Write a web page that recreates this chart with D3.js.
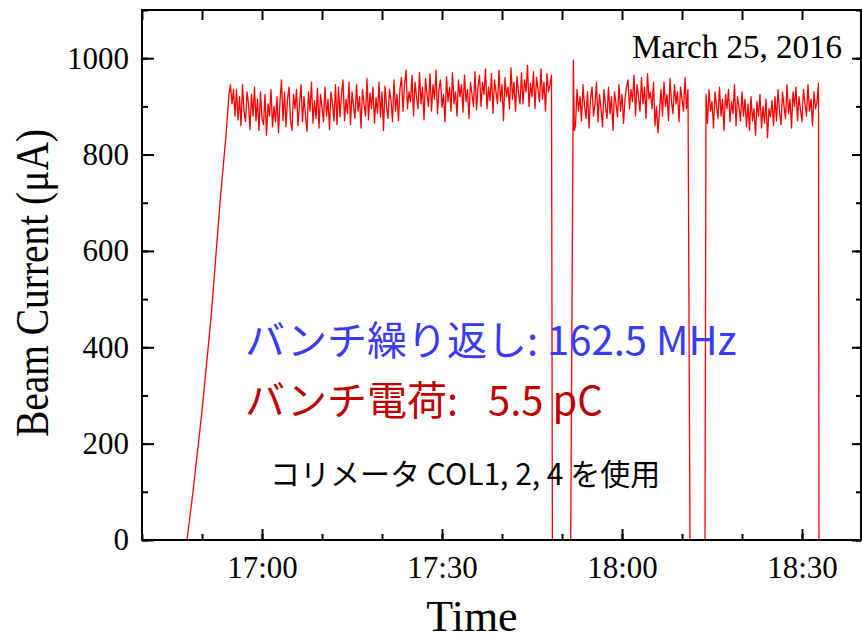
<!DOCTYPE html>
<html>
<head>
<meta charset="utf-8">
<script src="https://cdn.jsdelivr.net/npm/d3@7"></script>
<style>
  html, body { margin: 0; padding: 0; background: #fff; }
  svg { display: block; }
</style>
</head>
<body>
<svg id="chart" width="862" height="642"></svg>
<script>
// ---------------- DATA ----------------
const dateLabel = "March 25, 2016";
const xTitle = "Time";
const yTitle = "Beam Current (\u03bcA)";
const note1 = "バンチ繰り返し: 162.5 MHz";
const note2 = ["バンチ電荷:", "5.5 pC"];
const note3 = "コリメータ COL1, 2, 4 を使用";

const xDomain = ["16:40:00", "18:40:00"];
const yDomain = [0, 1100];
const yMajorTicks = [0, 200, 400, 600, 800, 1000];

// edge points (ramp-up, beam trips and restarts)
const edgeTimes  = ["16:40:00","16:47:30","16:48:30","16:50:00","16:51:30","16:53:00","16:54:00","16:54:30",
                    "17:48:24",
                    "17:51:27","17:51:54","17:52:03",
                    "18:11:20",
                    "18:13:50",
                    "18:32:50","18:40:00"];
const edgeValues = [0, 0, 100, 268, 460, 700, 840, 925,
                    0,
                    0, 996, 850,
                    0,
                    0,
                    0, 0];

// plateau samples, one every 15 s
const sampleStepSeconds = 15;
const plateau1Start = "16:54:45";
const plateau1 = [
  945, 905, 935, 880,
  935, 872, 920, 860, 945, 890, 868, 930, 905, 852, 925, 880, 940, 870,
  915, 850, 930, 875, 862, 925, 840, 905, 880, 935, 858, 900, 868, 920, 845, 910,
  955, 870, 930, 858, 915, 940, 872, 850, 925, 895, 935, 860, 905, 945, 868, 920, 880, 848, 930, 890,
  950, 865, 912, 875, 938, 855, 925, 898, 868, 940, 880, 915, 852, 930, 905, 870, 945, 862,
  940, 878, 925, 955, 870, 915, 885, 950, 862, 930, 900, 875, 945, 890, 920, 855, 935, 905, 880, 958,
  872, 928, 895, 940, 865, 918, 885, 950, 878, 930, 850, 942, 900, 875, 935, 912, 868, 955, 890, 925,
  870, 938,
  960, 890, 945, 975, 895, 930, 910, 965, 880, 950, 920, 895, 970, 905, 940, 872, 958, 925, 900, 968,
  890, 945, 915, 975, 885, 935, 955, 898, 925, 868, 962, 910, 940, 890, 970, 905, 930, 880, 955, 920,
  945, 888, 965, 910, 935, 875, 950, 925, 900, 972, 893, 940,
  965, 900, 950, 925, 978, 895, 940, 912, 968, 885, 955, 930, 905, 975, 910, 945, 870, 960, 920, 940,
  895, 980, 915, 950, 890, 962, 928, 905,
  970, 905, 955, 930, 985, 900, 948, 920, 972, 895, 960, 935, 910, 978, 915, 950, 890, 968, 930, 945, 965
];
const plateau2Start = "17:52:15";
const plateau2 = [
  860, 935, 890, 920, 870, 945, 900, 875, 930, 855, 915, 940, 880, 905, 950, 868, 925, 895, 858, 935,
  900, 875, 940, 885, 920, 850, 930, 905, 878, 945, 890, 925, 865, 915, 940,
  955, 895, 935, 910, 965, 880, 945, 920, 890, 960, 905, 940, 875, 968, 915, 930, 895, 950,
  860, 900, 845, 890,
  935, 880, 950, 900, 925, 870, 958, 910, 885, 945, 905, 930, 868, 940, 915, 890, 960, 895, 935
];
const plateau3Start = "18:14:00";
const plateau3 = [
  925, 865, 935, 890, 910, 855, 930, 900, 875, 940, 880, 915, 850, 925, 895, 935, 868, 910, 885, 945,
  860, 920, 898, 870, 930, 880, 915, 858,
  905, 850, 920, 870, 895, 840, 910, 880, 925, 855, 900, 865, 915, 835, 895, 878, 912, 860,
  920, 870, 935, 890, 862, 930, 900, 875, 945, 885, 915, 855, 930, 900, 940, 870, 920, 892, 868, 935,
  905, 880, 945, 890, 915, 860, 930, 895, 910, 948
];

// ---------------- BUILD ----------------
const parseT = d3.timeParse("%Y-%m-%d %H:%M:%S");
const T = s => parseT("2016-03-25 " + s);

let series = edgeTimes.map((t, i) => ({ t: T(t), v: edgeValues[i] }));
[[plateau1Start, plateau1], [plateau2Start, plateau2], [plateau3Start, plateau3]].forEach(([start, vals]) => {
  const t0 = T(start);
  vals.forEach((v, i) => series.push({ t: d3.timeSecond.offset(t0, i * sampleStepSeconds), v }));
});
series.sort((a, b) => a.t - b.t);

// ---------------- DRAW ----------------
const svg = d3.select("#chart");
const L = 142, R = 862, TOP = 10, BOT = 540;

const x = d3.scaleTime().domain(xDomain.map(T)).range([L, R]);
const y = d3.scaleLinear().domain(yDomain).range([BOT, TOP]);

svg.append("defs").append("clipPath").attr("id", "clip")
  .append("rect").attr("x", L).attr("y", TOP).attr("width", R - L).attr("height", BOT - TOP);

// data line
svg.append("path")
  .datum(series)
  .attr("clip-path", "url(#clip)")
  .attr("fill", "none")
  .attr("stroke", "#ff0000")
  .attr("stroke-width", 1.3)
  .attr("stroke-linejoin", "round")
  .attr("d", d3.line().x(d => x(d.t)).y(d => y(d.v)));

const axisFont = "'Liberation Serif', 'Times New Roman', serif";

function styleAxis(g) {
  g.select(".domain").remove();
  g.selectAll("line").attr("stroke", "#000").attr("stroke-width", 2);
  g.selectAll("text").attr("fill", "#000").style("font-family", axisFont).style("font-size", "31px");
}

// bottom axis: major labelled ticks every 30 min, minor every 10 min
svg.append("g").attr("transform", `translate(0,${BOT})`)
  .call(d3.axisBottom(x).ticks(d3.timeMinute.every(10)).tickSize(-6).tickFormat(""))
  .call(styleAxis);
svg.append("g").attr("transform", `translate(0,${BOT})`)
  .call(d3.axisBottom(x).ticks(d3.timeMinute.every(30)).tickSize(-11).tickPadding(16)
        .tickFormat(d3.timeFormat("%H:%M")))
  .call(styleAxis);

// top axis ticks
svg.append("g").attr("transform", `translate(0,${TOP})`)
  .call(d3.axisTop(x).ticks(d3.timeMinute.every(10)).tickSize(-10).tickFormat(""))
  .call(styleAxis);

// left axis
svg.append("g").attr("transform", `translate(${L},0)`)
  .call(d3.axisLeft(y).tickValues(d3.range(0, 1101, 100)).tickSize(-6).tickFormat(""))
  .call(styleAxis);
svg.append("g").attr("transform", `translate(${L},0)`)
  .call(d3.axisLeft(y).tickValues(yMajorTicks).tickSize(-12).tickPadding(13).tickFormat(d3.format("d")))
  .call(styleAxis);

// right axis
svg.append("g").attr("transform", `translate(${R - 1},0)`)
  .call(d3.axisRight(y).tickValues(d3.range(0, 1101, 100)).tickSize(-5).tickFormat(""))
  .call(styleAxis);
svg.append("g").attr("transform", `translate(${R - 1},0)`)
  .call(d3.axisRight(y).tickValues(yMajorTicks).tickSize(-9).tickFormat(""))
  .call(styleAxis);

// frame
svg.append("rect")
  .attr("x", L).attr("y", TOP).attr("width", R - 1 - L).attr("height", BOT - TOP)
  .attr("fill", "none").attr("stroke", "#000").attr("stroke-width", 2);

// axis titles
svg.append("text")
  .attr("x", 472).attr("y", 631)
  .attr("text-anchor", "middle")
  .style("font-family", axisFont).style("font-size", "44px")
  .text(xTitle);

svg.append("text")
  .attr("transform", "translate(48,283) rotate(-90)")
  .attr("text-anchor", "middle")
  .attr("textLength", 308).attr("lengthAdjust", "spacingAndGlyphs")
  .style("font-family", axisFont).style("font-size", "46px")
  .text(yTitle);

// date label
svg.append("text")
  .attr("x", 632).attr("y", 58)
  .style("font-family", axisFont).style("font-size", "33px")
  .text(dateLabel);

// annotations
const jp = "'Noto Sans CJK JP', 'Noto Sans', sans-serif";
svg.append("text").attr("x", 245).attr("y", 355)
  .attr("fill", "#3a3af5")
  .style("font-family", jp).style("font-size", "40px")
  .text(note1);
const t2 = svg.append("text").attr("y", 415)
  .attr("fill", "#c00000")
  .style("font-family", jp).style("font-size", "40px");
t2.append("tspan").attr("x", 245).text(note2[0]);
t2.append("tspan").attr("x", 488).text(note2[1]);
svg.append("text").attr("x", 270).attr("y", 485)
  .attr("fill", "#000")
  .style("font-family", jp).style("font-size", "30px")
  .text(note3);
</script>
</body>
</html>
